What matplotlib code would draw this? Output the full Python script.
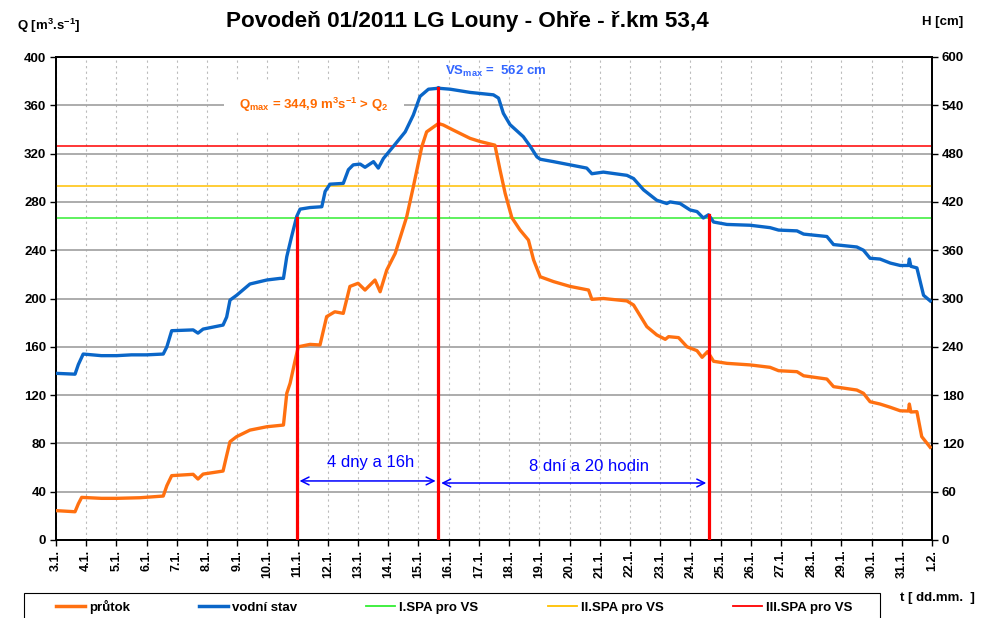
import numpy as np
import matplotlib
matplotlib.use("Agg")
import matplotlib.pyplot as plt
from matplotlib.patches import Rectangle

plt.rcParams['font.family'] = ['Liberation Sans', 'DejaVu Sans']
plt.rcParams['mathtext.fontset'] = 'custom'
plt.rcParams['mathtext.rm'] = 'Liberation Sans:bold'
plt.rcParams['mathtext.bf'] = 'Liberation Sans:bold'
plt.rcParams['mathtext.it'] = 'Liberation Sans:bold'

# ================================
# Data (time = day of January, 3.0 = 3.1. 00:00)
# ================================
t_h = [3.02, 3.63, 3.74, 3.90, 4.50, 5.01, 5.50, 6.00, 6.55, 6.67, 6.83, 7.54, 7.70,
       7.87, 8.53, 8.65, 8.76, 8.98, 9.42, 9.98, 10.42, 10.53, 10.64, 10.80, 10.97,
       11.08, 11.41, 11.80, 11.91, 12.07, 12.51, 12.68, 12.84, 13.07, 13.23, 13.51,
       13.67, 13.84, 14.17, 14.56, 14.83, 15.05, 15.33, 15.61, 15.66, 15.72, 16.05,
       16.71, 17.48, 17.65, 17.81, 18.03, 18.47, 18.70, 18.92, 19.03, 19.47, 20.02,
       20.57, 20.74, 21.12, 21.90, 22.12, 22.45, 22.89, 23.22, 23.33, 23.66, 23.99,
       24.22, 24.43, 24.60, 24.77, 25.21, 25.98, 26.64, 26.92, 27.53, 27.75, 28.52,
       28.74, 29.51, 29.73, 29.95, 30.28, 30.62, 30.95, 31.22, 31.25, 31.30, 31.50,
       31.72, 31.94]
h = [207, 206, 218, 231, 229, 229, 230, 230, 231, 240, 260, 261, 257,
     262, 267, 277, 298, 304, 318, 323, 325, 325, 352, 377, 402,
     411, 413, 414, 433, 442, 443, 460, 466, 467, 463, 470,
     462, 474, 489, 507, 528, 551, 560, 561, 562, 561, 560,
     556, 553, 549, 530, 516, 501, 489, 476, 473, 470, 466,
     462, 455, 457, 453, 449, 435, 422, 418, 420, 418, 410,
     408, 400, 404, 395, 392, 391, 388, 385, 384, 380, 377,
     367, 364, 360, 350, 349, 344, 341, 341, 349, 340, 338,
     304, 297]

t_q = [3.02, 3.63, 3.74, 3.85, 4.50, 5.01, 5.78, 6.55, 6.67, 6.83, 7.54, 7.70, 7.87,
       8.53, 8.65, 8.76, 8.98, 9.42, 9.98, 10.53, 10.64, 10.75, 10.91, 11.02, 11.41,
       11.74, 11.96, 12.23, 12.51, 12.73, 13.00, 13.23, 13.56, 13.73, 13.95, 14.23,
       14.61, 14.83, 15.11, 15.27, 15.66, 15.82, 16.15, 16.71, 17.04, 17.53, 17.70,
       17.87, 18.09, 18.36, 18.64, 18.81, 19.03, 19.47, 20.02, 20.63, 20.74, 21.12,
       21.90, 22.12, 22.56, 22.89, 23.17, 23.28, 23.61, 23.89, 24.22, 24.39, 24.57,
       24.77, 25.21, 25.98, 26.64, 26.92, 27.53, 27.75, 28.52, 28.74, 29.51, 29.73,
       29.95, 30.28, 30.62, 30.95, 31.22, 31.25, 31.30, 31.50, 31.66, 31.94]
q = [24.3, 23.4, 30.0, 35.3, 34.5, 34.5, 35.0, 36.4, 45.0, 53.3, 54.4, 50.5, 54.6,
     57.1, 70.0, 81.4, 85.6, 91.0, 93.8, 95.2, 121.5, 129.8, 148.0, 160.0, 162.0,
     161.5, 185.0, 189.0, 187.7, 210.0, 212.6, 207.0, 215.3, 205.6, 223.6, 237.4,
     267.7, 292.6, 325.7, 338.0, 344.9, 343.7, 339.5, 332.6, 330.0, 327.0, 306.4,
     287.0, 267.0, 256.8, 248.4, 232.0, 218.0, 214.0, 210.0, 207.0, 199.3, 200.0,
     198.0, 194.6, 176.7, 169.8, 166.2, 168.4, 167.6, 160.0, 156.8, 151.3, 156.0,
     148.0, 146.3, 145.0, 143.0, 140.2, 139.4, 136.0, 133.3, 127.0, 124.2, 121.5,
     114.5, 112.6, 109.9, 107.0, 106.8, 112.6, 106.0, 106.3, 85.6, 76.8]

# stupne povodnove aktivity (H v cm)
spa_names = ['I.SPA pro VS', 'II.SPA pro VS', 'III.SPA pro VS']
spa_levels = [400, 440, 490]
spa_colors = ['#33EE33', '#FFC000', '#FF0000']

# svisle cary (cas, vyska H)
mark_t = [10.97, 15.66, 24.62]
mark_h = [400, 562, 404]

day_labels = [f'{d}.1.' for d in range(3, 32)] + ['1.2.']
day_ticks = list(range(3, 33))

c_q = '#FF7010'
c_h = '#0A66C8'

# ================================
# Graf
# ================================
fig = plt.figure(figsize=(9.96, 6.18), dpi=100)
ax = fig.add_axes([56/996, 1-540/618, 876/996, 483/618])
ax2 = ax.twinx()

ax.set_xlim(3, 32)
ax.set_ylim(0, 400)
ax2.set_ylim(0, 600)
ax.set_yticks(np.arange(0, 401, 40))
ax2.set_yticks(np.arange(0, 601, 60))
ax.set_xticks(day_ticks)
ax.set_xticklabels(day_labels, rotation=90, fontsize=9, fontweight='bold')
for lab in ax.get_yticklabels() + ax2.get_yticklabels():
    lab.set_fontweight('bold')
    lab.set_fontsize(9.5)
ax.tick_params(axis='both', direction='out', length=4, width=1, pad=3)
ax2.tick_params(axis='y', direction='out', length=4, width=1, pad=3)

ax.grid(axis='y', color='#A6A6A6', linewidth=1.3, linestyle='-')
ax.grid(axis='x', color='#BBBBBB', linewidth=0.8, linestyle=(0, (2, 3)))
ax.set_axisbelow(True)
for sp in list(ax.spines.values()) + list(ax2.spines.values()):
    sp.set_color('black')
    sp.set_linewidth(1.3)

ax2.plot(t_q, np.array(q) * 1.5, color=c_q, linewidth=2.4, zorder=3)
ax2.plot(t_h, h, color=c_h, linewidth=2.4, zorder=3)
for name, lev, col in zip(spa_names, spa_levels, spa_colors):
    ax2.axhline(lev, color=col, linewidth=1.1, zorder=2)
for tm, hm in zip(mark_t, mark_h):
    ax2.plot([tm, tm], [0, hm], color='#FF0000', linewidth=2.3, zorder=5)

# sipky s dobou
ax.annotate('', xy=(mark_t[0], 48.9), xytext=(mark_t[1], 48.9),
            arrowprops=dict(arrowstyle='<->', color='#0000FF', lw=1.1,
                            mutation_scale=14), zorder=6)
ax.annotate('', xy=(mark_t[1], 47.2), xytext=(mark_t[2], 47.2),
            arrowprops=dict(arrowstyle='<->', color='#0000FF', lw=1.1,
                            mutation_scale=14), zorder=6)
ax.text(13.41, 64.5, '4 dny a 16h', color='#0000FF',
        fontsize=12, ha='center', va='center')
ax.text(20.65, 60.5, '8 dní a 20 hodin', color='#0000FF',
        fontsize=12, ha='center', va='center')

ax.text(11.54, 360, 'Q$_{max}$ = 344,9 m$^{3}$s$^{-1}$ > Q$_{2}$',
        color='#FF6A00', fontsize=9.5, fontweight='bold', ha='center', va='center',
        bbox=dict(facecolor='white', edgecolor='none', pad=11), zorder=4)
ax.text(17.57, 388.4, 'VS$_{max}$ =  562 cm', color='#3366FF',
        fontsize=9.5, fontweight='bold', ha='center', va='center', zorder=4)

fig.text(467/996, 1 - 22/618, 'Povodeň 01/2011 LG Louny - Ohře - ř.km 53,4',
         fontsize=16.2, fontweight='bold', ha='center', va='center')
fig.text(17/996, 1 - 26/618, 'Q [m$^{3}$.s$^{-1}$]',
         fontsize=9.5, fontweight='bold', ha='left', va='center')
fig.text(922/996, 1 - 22/618, 'H [cm]', fontsize=9.5, fontweight='bold',
         ha='left', va='center')
fig.text(900/996, 1 - 598/618, 't [ dd.mm.  ]', fontsize=9.5, fontweight='bold',
         ha='left', va='center')

# legenda
handles = [plt.Line2D([], [], color=c_q, lw=2.5),
           plt.Line2D([], [], color=c_h, lw=2.5)]
handles += [plt.Line2D([], [], color=c, lw=1.3) for c in spa_colors]
labels = ['průtok', 'vodní stav'] + spa_names
leg = fig.legend(handles, labels, ncol=5, loc='center left', mode='expand',
                 bbox_to_anchor=(56/996, 1 - 614/618, 796/996, 14/618),
                 borderaxespad=0, frameon=False,
                 handlelength=2.2, handletextpad=0.3, borderpad=0.0,
                 prop={'weight': 'bold', 'size': 9.5})
fig.patches.append(Rectangle((24/996, -0.02), 856/996, 0.02 + 1 - 593/618,
                             transform=fig.transFigure, facecolor='none',
                             edgecolor='black', linewidth=0.8))

plt.savefig('out.png', dpi=100)
